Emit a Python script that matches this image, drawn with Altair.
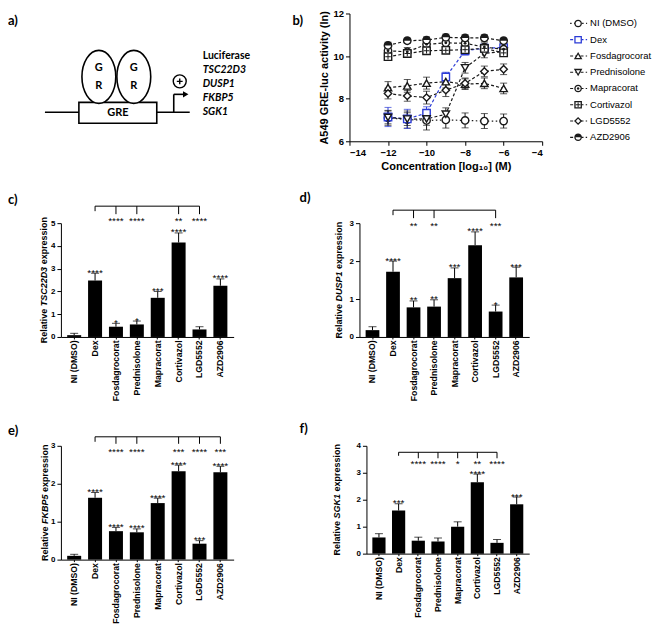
import altair as alt
import pandas as pd

FONT = "Liberation Sans"
LFONT = "Lato"

# ---------------- data ----------------
compounds = ["NI (DMSO)", "Dex", "Fosdagrocorat", "Prednisolone",
             "Mapracorat", "Cortivazol", "LGD5552", "AZD2906"]

# panel b : dose response
log_conc = [-12, -11, -10, -9, -8, -7, -6]
ni_mean = [7.10, 7.02, 6.98, 7.00, 6.98, 6.95, 6.95]
ni_err = [0.35, 0.40, 0.45, 0.38, 0.35, 0.35, 0.33]
dex_mean = [7.14, 7.05, 7.32, 9.02, 10.25, 10.37, 10.40]
dex_err = [0.45, 0.45, 0.30, 0.22, 0.20, 0.18, 0.18]
fos_mean = [8.52, 8.60, 8.73, 8.80, 8.68, 8.72, 8.48]
fos_err = [0.28, 0.30, 0.28, 0.30, 0.25, 0.25, 0.25]
pred_mean = [7.12, 7.04, 7.05, 7.27, 9.45, 10.12, 10.22]
pred_err = [0.30, 0.30, 0.30, 0.30, 0.25, 0.20, 0.18]
map_mean = [10.25, 10.20, 10.55, 10.62, 10.60, 10.42, 10.32]
map_err = [0.25, 0.20, 0.20, 0.25, 0.20, 0.20, 0.20]
cort_mean = [9.97, 10.12, 10.25, 10.27, 10.30, 10.36, 10.15]
cort_err = [0.15, 0.15, 0.12, 0.12, 0.10, 0.12, 0.10]
lgd_mean = [8.24, 8.13, 8.05, 8.40, 8.72, 9.28, 9.38]
lgd_err = [0.25, 0.25, 0.30, 0.30, 0.25, 0.25, 0.25]
azd_mean = [10.50, 10.72, 10.75, 10.88, 10.85, 10.85, 10.72]
azd_err = [0.15, 0.12, 0.15, 0.15, 0.15, 0.15, 0.12]

# panels c-f : relative expression
tsc_mean = [0.08, 2.48, 0.45, 0.55, 1.72, 4.15, 0.33, 2.25]
tsc_err = [0.08, 0.32, 0.15, 0.15, 0.28, 0.42, 0.12, 0.30]
tsc_stars = ["", "****", "*", "*", "***", "****", "", "****"]
tsc_cmp = ["Fosdagrocorat", "Prednisolone", "Cortivazol", "LGD5552"]
tsc_cmp_stars = ["****", "****", "**", "****"]

dusp_mean = [0.18, 1.72, 0.78, 0.80, 1.55, 2.42, 0.67, 1.57]
dusp_err = [0.09, 0.28, 0.17, 0.18, 0.27, 0.35, 0.17, 0.27]
dusp_stars = ["", "****", "**", "**", "***", "****", "*", "***"]
dusp_cmp = ["Fosdagrocorat", "Prednisolone", "LGD5552"]
dusp_cmp_stars = ["**", "**", "***"]

fkbp_mean = [0.10, 1.63, 0.75, 0.72, 1.49, 2.33, 0.42, 2.30]
fkbp_err = [0.04, 0.14, 0.10, 0.09, 0.13, 0.16, 0.08, 0.16]
fkbp_stars = ["", "****", "****", "****", "****", "****", "***", "****"]
fkbp_cmp = ["Fosdagrocorat", "Prednisolone", "Cortivazol", "LGD5552", "AZD2906"]
fkbp_cmp_stars = ["****", "****", "***", "****", "***"]

sgk_mean = [0.60, 1.60, 0.48, 0.45, 1.00, 2.65, 0.40, 1.83]
sgk_err = [0.14, 0.25, 0.13, 0.13, 0.18, 0.30, 0.12, 0.27]
sgk_stars = ["", "***", "", "", "", "****", "", "***"]
sgk_cmp = ["Fosdagrocorat", "Prednisolone", "Mapracorat", "Cortivazol", "LGD5552"]
sgk_cmp_stars = ["****", "****", "*", "**", "****"]

# panel a : schematic labels
gene_labels = ["TSC22D3", "DUSP1", "FKBP5", "SGK1"]

# ---------------- styles ----------------
BLUE = "#2b3bd6"
INK = "#1a1a1a"
series_colors = [INK, BLUE, INK, INK, INK, INK, INK, INK]
err_colors = ["#555555", BLUE, "#555555", "#555555", "#555555", "#555555", "#555555", "#555555"]
series_dash = [[1.5, 2.5]] + [[3, 2.2]] * 7
series_shapes = ["circle", "square", "triangle-up", "triangle-down",
                 "circle", "square", "diamond", "circle"]

color_scale = alt.Scale(domain=compounds, range=series_colors)
err_scale = alt.Scale(domain=compounds, range=err_colors)
dash_scale = alt.Scale(domain=compounds, range=series_dash)
shape_scale = alt.Scale(domain=compounds, range=series_shapes)

W_BOLD = {"R": .722, "e": .556, "l": .278, "a": .556, "t": .333, "i": .278, "v": .556,
          "x": .556, "p": .611, "r": .389, "s": .556, "o": .611, "n": .611, "T": .611,
          "S": .667, "C": .722, "D": .722, "U": .722, "P": .667, "F": .611, "K": .722,
          "B": .722, "G": .778}


def tw(s, size):
    return sum(W_BOLD.get(ch, 0.556) for ch in s) * size


def label(text, x, y, size=13):
    return alt.Chart(pd.DataFrame({"t": [text]})).mark_text(
        align="left", baseline="middle", font=LFONT, fontWeight="bold",
        fontSize=size, color="black").encode(x=alt.value(x), y=alt.value(y), text="t:N")


# ---------------- panel a (schematic) ----------------
ax_s = alt.Scale(domain=[58, 258], nice=False, zero=False)
ay_s = alt.Scale(domain=[5, 133], nice=False, zero=False, reverse=True)


def AX(f):
    return alt.X(f + ":Q", scale=ax_s, axis=None)


def AY(f):
    return alt.Y(f + ":Q", scale=ay_s, axis=None)


dna = pd.DataFrame({"x": [42], "x2": [187], "y": [104]})
box = pd.DataFrame({"x": [76], "x2": [154], "y": [94], "y2": [115]})
gr = pd.DataFrame({"x": [96, 131], "y": [68.5, 68.5]})
gr_txt = pd.DataFrame({"x": [96, 96, 131, 131], "y": [60, 78, 60, 78], "t": ["G", "R", "G", "R"]})
arrow_v = pd.DataFrame({"x": [171], "y": [104], "y2": [86]})
arrow_h = pd.DataFrame({"x": [171], "x2": [181], "y": [86]})
arrow_head = pd.DataFrame({"x": [183], "y": [86]})
plus = pd.DataFrame({"x": [177], "y": [73]})
gene_df = pd.DataFrame({"x": [200] * 4, "y": [62, 76, 90, 104], "t": gene_labels})
luc_df = pd.DataFrame({"x": [200], "y": [48], "t": ["Luciferase"]})
ellipse = "M-0.64,0A0.64,1,0,1,0,0.64,0A0.64,1,0,1,0,-0.64,0Z"

panel_a = alt.layer(
    alt.Chart(dna).mark_rule(color="black", strokeWidth=1.6).encode(x=AX("x"), x2="x2:Q", y=AY("y")),
    alt.Chart(box).mark_rect(fill="white", stroke="black", strokeWidth=1.6).encode(
        x=AX("x"), x2="x2:Q", y=AY("y"), y2="y2:Q"),
    alt.Chart(pd.DataFrame({"x": [115], "y": [105], "t": ["GRE"]})).mark_text(
        font=LFONT, fontWeight="bold", fontSize=11, color="black").encode(x=AX("x"), y=AY("y"), text="t:N"),
    alt.Chart(gr).mark_point(shape=ellipse, size=2809, filled=True, fill="white", stroke="black",
                             strokeWidth=1.6, opacity=1).encode(x=AX("x"), y=AY("y")),
    alt.Chart(gr_txt).mark_text(font=LFONT, fontWeight="bold", fontSize=11, color="black").encode(
        x=AX("x"), y=AY("y"), text="t:N"),
    alt.Chart(arrow_v).mark_rule(color="black", strokeWidth=1.6).encode(x=AX("x"), y=AY("y"), y2="y2:Q"),
    alt.Chart(arrow_h).mark_rule(color="black", strokeWidth=1.6).encode(x=AX("x"), x2="x2:Q", y=AY("y")),
    alt.Chart(arrow_head).mark_point(shape="triangle-right", size=40, filled=True, color="black",
                                     opacity=1).encode(x=AX("x"), y=AY("y")),
    alt.Chart(plus).mark_point(shape="circle", size=169, filled=True, fill="white", stroke="black",
                               strokeWidth=1.4, opacity=1).encode(x=AX("x"), y=AY("y")),
    alt.Chart(plus).mark_point(shape="M-0.45,0H0.45M0,-0.45V0.45", size=169, filled=False,
                               color="black", strokeWidth=1.4, opacity=1).encode(x=AX("x"), y=AY("y")),
    alt.Chart(luc_df).mark_text(align="left", baseline="middle", font=LFONT, fontWeight="bold",
                                fontSize=10.5, color="black").encode(x=AX("x"), y=AY("y"), text="t:N"),
    alt.Chart(gene_df).mark_text(align="left", baseline="middle", font=LFONT, fontWeight="bold",
                                 fontStyle="italic", fontSize=10.5, color="black").encode(
        x=AX("x"), y=AY("y"), text="t:N"),
    alt.Chart(pd.DataFrame({"x": [5], "y": [13], "t": ["a)"]})).mark_text(
        align="left", baseline="middle", font=LFONT, fontWeight="bold", fontSize=13,
        color="black").encode(x=AX("x"), y=AY("y"), text="t:N"),
).properties(width=200, height=128)

# ---------------- panel b (dose response) ----------------
b_means = [ni_mean, dex_mean, fos_mean, pred_mean, map_mean, cort_mean, lgd_mean, azd_mean]
b_errs = [ni_err, dex_err, fos_err, pred_err, map_err, cort_err, lgd_err, azd_err]
rows = []
for s, ms, es in zip(compounds, b_means, b_errs):
    for c, m, e in zip(log_conc, ms, es):
        rows.append({"series": s, "conc": c, "mean": m, "lo": m - e, "hi": m + e})
dfb = pd.DataFrame(rows)

bx_axis = alt.Axis(values=[-14, -12, -10, -8, -6, -4], title="Concentration [log₁₀] (M)",
                   titleFont=FONT, titleFontSize=11, titleFontWeight="bold", titleColor="black",
                   titlePadding=4, labelFont=FONT, labelFontSize=9.5, labelFontWeight="bold",
                   labelColor="black", tickSize=4, tickColor="black", domainColor="black", grid=False)
by_axis = alt.Axis(values=[6, 8, 10, 12], title="A549 GRE-luc activity (ln)",
                   titleFont=FONT, titleFontSize=11, titleFontWeight="bold", titleColor="black",
                   titlePadding=3, labelFont=FONT, labelFontSize=9.5, labelFontWeight="bold",
                   labelColor="black", tickSize=4, tickColor="black", domainColor="black", grid=False)
bxs = alt.Scale(domain=[-14, -4], nice=False)
bys = alt.Scale(domain=[6, 12], nice=False)


def BX():
    return alt.X("conc:Q", scale=bxs, axis=bx_axis)


def BY(f):
    return alt.Y(f + ":Q", scale=bys, axis=by_axis)


bbase = alt.Chart(dfb)
PT = 55
panel_b = alt.layer(
    bbase.mark_line(strokeWidth=1.2).encode(
        x=BX(), y=BY("mean"),
        color=alt.Color("series:N", scale=color_scale, legend=None),
        strokeDash=alt.StrokeDash("series:N", scale=dash_scale, legend=None),
        detail="series:N"),
    bbase.mark_rule(strokeWidth=1).encode(
        x=BX(), y=BY("lo"), y2="hi:Q",
        color=alt.Color("series:N", scale=err_scale, legend=None)),
    bbase.mark_tick(orient="horizontal", size=7, thickness=1).encode(
        x=BX(), y=BY("lo"), color=alt.Color("series:N", scale=err_scale, legend=None)),
    bbase.mark_tick(orient="horizontal", size=7, thickness=1).encode(
        x=BX(), y=BY("hi"), color=alt.Color("series:N", scale=err_scale, legend=None)),
    bbase.mark_point(filled=True, fill="white", strokeWidth=1.4, size=PT, opacity=1).encode(
        x=BX(), y=BY("mean"),
        stroke=alt.Stroke("series:N", scale=color_scale, legend=None),
        shape=alt.Shape("series:N", scale=shape_scale, legend=None)),
    bbase.transform_filter(alt.datum.series == "Mapracorat").mark_point(
        shape="circle", filled=True, size=8, color=INK, opacity=1).encode(x=BX(), y=BY("mean")),
    bbase.transform_filter(alt.datum.series == "Cortivazol").mark_point(
        shape="M-0.75,0H0.75M0,-0.75V0.75", filled=False, size=PT, color=INK, strokeWidth=1,
        opacity=1).encode(x=BX(), y=BY("mean")),
    bbase.transform_filter(alt.datum.series == "AZD2906").mark_point(
        shape="M-1,0A1,1,0,0,1,1,0Z", filled=True, size=PT, color=INK, opacity=1).encode(
        x=BX(), y=BY("mean")),
    label("b)", -57, 8),
).properties(width=193, height=128)

# manual legend
leg_df = pd.DataFrame({"series": compounds})
leg_y = alt.Y("series:N", scale=alt.Scale(type="point", domain=compounds, range=[10, 124], padding=0),
              axis=None)
lbase = alt.Chart(leg_df)
LPT = 40
legend = alt.layer(
    lbase.mark_rule(strokeWidth=1.2).encode(
        x=alt.value(7), x2=alt.value(24), y=leg_y,
        color=alt.Color("series:N", scale=color_scale, legend=None),
        strokeDash=alt.StrokeDash("series:N", scale=dash_scale, legend=None)),
    lbase.mark_point(filled=True, fill="white", strokeWidth=1.3, size=LPT, opacity=1).encode(
        x=alt.value(15), y=leg_y,
        stroke=alt.Stroke("series:N", scale=color_scale, legend=None),
        shape=alt.Shape("series:N", scale=shape_scale, legend=None)),
    lbase.transform_filter(alt.datum.series == "Mapracorat").mark_point(
        shape="circle", filled=True, size=6, color=INK, opacity=1).encode(x=alt.value(15), y=leg_y),
    lbase.transform_filter(alt.datum.series == "Cortivazol").mark_point(
        shape="M-0.75,0H0.75M0,-0.75V0.75", filled=False, size=LPT, color=INK, strokeWidth=1,
        opacity=1).encode(x=alt.value(15), y=leg_y),
    lbase.transform_filter(alt.datum.series == "AZD2906").mark_point(
        shape="M-1,0A1,1,0,0,1,1,0Z", filled=True, size=LPT, color=INK, opacity=1).encode(
        x=alt.value(15), y=leg_y),
    lbase.mark_text(align="left", baseline="middle", font=FONT, fontSize=9.5, color="black").encode(
        x=alt.value(27), y=leg_y, text="series:N"),
).properties(width=88, height=128)


# ---------------- bar panels ----------------
def bar_panel(gene, means, errs, stars, cmp_names, cmp_stars, ymax, w, h, letter, st):
    df = pd.DataFrame({"compound": compounds, "mean": means,
                       "top": [m + e for m, e in zip(means, errs)], "star": stars})
    xs = alt.Scale(domain=compounds, paddingInner=0.33, paddingOuter=0.3)
    xaxis = alt.Axis(title=None, labelAngle=270, labelFont=FONT, labelFontWeight="bold",
                     labelFontSize=8.7, labelColor="black", tickSize=2, tickColor="black",
                     domainColor="black", labelPadding=1, grid=False)
    yaxis = alt.Axis(title=None, values=list(range(ymax + 1)), format="d", labelFont=FONT,
                     labelFontWeight="bold", labelFontSize=8, labelColor="black", tickSize=4,
                     tickColor="black", domainColor="black", labelPadding=2, grid=False)
    ys = alt.Scale(domain=[0, ymax], nice=False)

    def X():
        return alt.X("compound:N", scale=xs, axis=xaxis)

    def Y(f):
        return alt.Y(f + ":Q", scale=ys, axis=yaxis)

    base = alt.Chart(df)
    layers = [
        base.mark_bar(color="black").encode(x=X(), y=Y("mean")),
        base.mark_rule(color="black", strokeWidth=1).encode(x=X(), y=Y("mean"), y2="top:Q"),
        base.mark_tick(color="black", orient="horizontal", size=8, thickness=1).encode(x=X(), y=Y("top")),
        base.mark_text(font=FONT, fontSize=10, baseline="alphabetic", dy=2.5, color="black").encode(
            x=X(), y=Y("top"), text="star:N"),
    ]
    br = pd.DataFrame({"compound": ["Dex"], "end": [cmp_names[-1]]})
    layers.append(alt.Chart(br).mark_rule(color="black", strokeWidth=1).encode(
        x=X(), x2=alt.X2(field="end"), y=alt.value(st["line"])))
    layers.append(alt.Chart(br).mark_rule(color="black", strokeWidth=1).encode(
        x=X(), y=alt.value(st["line"]), y2=alt.value(st["hook"])))
    cmp_df = pd.DataFrame({"compound": cmp_names, "star": cmp_stars})
    layers.append(alt.Chart(cmp_df).mark_rule(color="black", strokeWidth=1).encode(
        x=X(), y=alt.value(st["line"]), y2=alt.value(st["tick"])))
    layers.append(alt.Chart(cmp_df).mark_text(font=FONT, fontSize=10, baseline="alphabetic", dy=5.8,
                                               color="black").encode(
        x=X(), y=alt.value(st["star"]), text="star:N"))
    # y-axis title with italic gene name
    fs = 9
    gap = 2.5
    w_rel, w_gene, w_exp = tw("Relative", fs), tw(gene, fs), tw("expression", fs)
    start = -(w_rel + gap + w_gene + gap + w_exp) / 2
    pieces = [("Relative", start, "normal"),
              (gene, start + w_rel + gap, "italic"),
              ("expression", start + w_rel + gap + w_gene + gap, "normal")]
    for text, off, style in pieces:
        layers.append(alt.Chart(pd.DataFrame({"t": [text]})).mark_text(
            angle=270, align="left", baseline="middle", font=FONT, fontSize=fs, fontWeight="bold",
            fontStyle=style, dx=off, color="black").encode(
            x=alt.value(st["title_x"]), y=alt.value(h / 2), text="t:N"))
    layers.append(label(letter, st["lx"], st["ly"]))
    return alt.layer(*layers).properties(width=w, height=h)


panel_c = bar_panel("TSC22D3", tsc_mean, tsc_err, tsc_stars, tsc_cmp, tsc_cmp_stars, 5, 173, 114, "c)",
                    {"line": -17, "hook": -12, "tick": -9, "star": -5, "title_x": -17, "lx": -53, "ly": -23})
panel_d = bar_panel("DUSP1", dusp_mean, dusp_err, dusp_stars, dusp_cmp, dusp_cmp_stars, 3, 170, 114, "d)",
                    {"line": -13, "hook": -8, "tick": -5, "star": 0, "title_x": -20, "lx": -60, "ly": -25})
panel_e = bar_panel("FKBP5", fkbp_mean, fkbp_err, fkbp_stars, fkbp_cmp, fkbp_cmp_stars, 3, 173, 114, "e)",
                    {"line": -9, "hook": -4, "tick": -2, "star": 3, "title_x": -16, "lx": -53, "ly": -15})
panel_f = bar_panel("SGK1", sgk_mean, sgk_err, sgk_stars, sgk_cmp, sgk_cmp_stars, 4, 163, 108, "f)",
                    {"line": 6.5, "hook": 10, "tick": 12.5, "star": 15, "title_x": -29, "lx": -67, "ly": -17})

row1 = alt.hconcat(panel_a, alt.hconcat(panel_b, legend, spacing=20), spacing=32)
row2 = alt.hconcat(panel_c, panel_d, spacing=66)
row3 = alt.hconcat(panel_e, panel_f, spacing=66)

chart = alt.vconcat(row1, alt.vconcat(row2, row3, spacing=22), spacing=20).properties(
    padding={"left": 0, "top": 0, "right": 0, "bottom": 0}
).configure_view(stroke=None)

chart.save("out.html", embed_options={"renderer": "svg", "actions": False})
